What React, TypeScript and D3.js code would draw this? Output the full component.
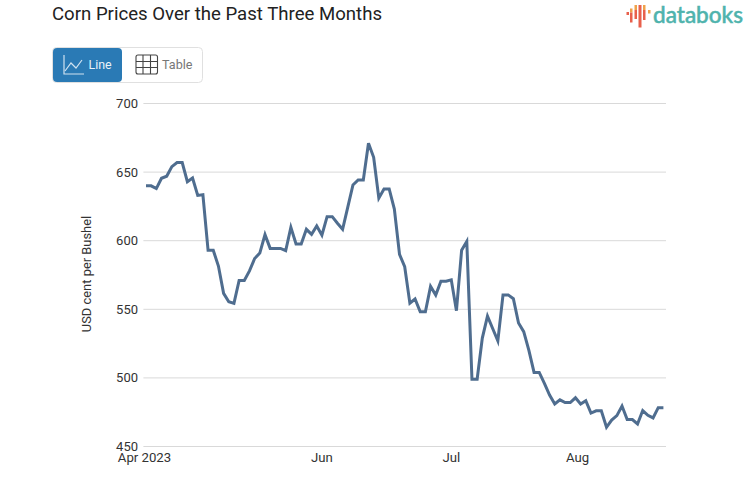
import React, { useEffect, useRef } from "react";
import * as d3 from "d3";

const prices = [
  640, 640, 638, 645.5, 647, 654, 657, 657, 643, 645.7,
  633, 633.5, 593, 593, 581.5, 561.6, 555.5, 554.3, 571, 571,
  578, 587, 591, 604.4, 594.4, 594.4, 594.4, 592.7, 609.7, 597.6,
  597.6, 608.3, 604.6, 610.7, 604, 617.5, 617.5, 612.7, 608.3, 624.5,
  640.6, 644.3, 644.3, 671, 660.8, 631, 637.7, 637.7, 623, 590,
  581, 554.4, 557.5, 548.2, 548.2, 566.7, 560.4, 570.5, 570.5, 571.5,
  549, 593, 599.5, 499, 499, 529, 545, 536, 527, 560.5,
  560.5, 557.7, 540, 533.7, 520, 504, 504, 496, 487.5, 481,
  484, 482, 482, 485.5, 481, 483.4, 474.4, 476, 476, 464,
  469.3, 472.5, 479.5, 469.6, 469.6, 466.4, 476.2, 472.7, 470.8, 478.3, 478.3,
];
const yTicks = [450, 500, 550, 600, 650, 700];
const xTickLabels = ["Apr 2023", "Jun", "Jul", "Aug"];
const xTickIndex = [0, 34, 59, 84];
const xLabelNudge = [-1.5, 0, 0, -3];
const title = "Corn Prices Over the Past Three Months";
const yTitle = "USD cent per Bushel";

const FONT = "Roboto, sans-serif";

export default function App() {
  const ref = useRef<SVGGElement>(null);
  const x = d3.scalePoint<number>().domain(prices.map((_, i) => i)).range([143.4, 666]).padding(0.5);
  const y = d3.scaleLinear().domain([450, 700]).range([446.5, 103.5]);
  const line = d3.line<number>().x((_, i) => x(i)!).y((d) => y(d));

  useEffect(() => {
    const g = d3.select(ref.current!);
    g.selectAll("*").remove();
    const yg = g.append("g");
    yTicks.forEach((t) => {
      yg.append("line").attr("x1", 143.4).attr("x2", 666).attr("y1", y(t)).attr("y2", y(t))
        .attr("stroke", "#d9d9d9").attr("stroke-width", 1);
      yg.append("text").attr("x", 138).attr("y", y(t) + 4.5).attr("text-anchor", "end")
        .attr("font-size", 13).attr("font-family", FONT).attr("fill", "#333").text(t);
    });
    g.append("path").attr("d", line(prices)!).attr("fill", "none").attr("stroke", "#4f6d8f")
      .attr("stroke-width", 3).attr("stroke-linejoin", "miter");
    xTickIndex.forEach((idx, i) => {
      g.append("text").attr("x", x(idx)! + xLabelNudge[i]).attr("y", 462).attr("text-anchor", "middle")
        .attr("font-size", 13.2).attr("font-family", FONT).attr("fill", "#333").text(xTickLabels[i]);
    });
    g.append("text").attr("transform", "translate(91,274) rotate(-90)").attr("text-anchor", "middle")
      .attr("font-size", 12.9).attr("font-family", FONT).attr("fill", "#333").text(yTitle);
  }, []);

  return (
    <svg width={753} height={498} style={{ position: "absolute", left: 0, top: 0 }}>
      <rect width={753} height={498} fill="#fff" />
      <text x={52} y={20} fontFamily={FONT} fontSize={18.6} fill="#222">{title}</text>

      {/* logo */}
      <g>
        <rect x={626.5} y={12} width={2.5} height={3} fill="#e8604c" />
        <rect x={630} y={8.5} width={2.5} height={4} fill="#f0a14a" />
        <rect x={630} y={12.5} width={2.5} height={10} fill="#e8604c" />
        <rect x={634.5} y={5} width={2.5} height={5} fill="#f0a14a" />
        <rect x={634.5} y={10} width={2.5} height={9} fill="#e8604c" />
        <rect x={638.5} y={5} width={3} height={22.5} fill="#e8604c" />
        <rect x={643} y={5} width={2.5} height={5} fill="#f0a14a" />
        <rect x={643} y={10} width={2.5} height={10} fill="#e8604c" />
        <rect x={648} y={10} width={2.5} height={3.5} fill="#f0a14a" />
        <text x={653} y={23} fontFamily="Lato, sans-serif" fontWeight={500} fontSize={22.5} stroke="#4fb3ad" strokeWidth={0.5} fill="#4fb3ad">databoks</text>
      </g>

      {/* toggle */}
      <rect x={52.5} y={47.5} width={150} height={35} rx={4} fill="#fff" stroke="#e0e0e0" />
      <rect x={53} y={48} width={69} height={34} rx={4} fill="#2a7ab5" />
      <path d="M64 55V74H84" fill="none" stroke="#cfe2f0" strokeWidth={1.2} />
      <path d="M65 71L71 63L76 68L82 60" fill="none" stroke="#cfe2f0" strokeWidth={1.2} />
      <text x={88.5} y={69} fontFamily={FONT} fontSize={12.4} fill="#e8f1f8">Line</text>
      <g fill="none" stroke="#444" strokeWidth={1.1}>
        <rect x={136} y={55} width={21.5} height={19} rx={2} />
        <path d="M143 55V74M150.500 55V74M136 61.500H157.500M136 67.500H157.500" />
      </g>
      <text x={162} y={69} fontFamily={FONT} fontSize={12.6} fill="#777">Table</text>

      <g ref={ref} />
    </svg>
  );
}
